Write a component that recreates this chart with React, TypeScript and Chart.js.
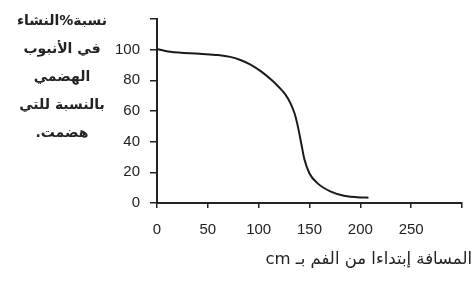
import React, { useEffect, useRef } from "react";
import { Chart, registerables } from "chart.js";

Chart.register(...registerables);

const distanceCm = [0, 13, 42, 60, 72, 82, 92, 103, 113, 120, 126, 131, 135.5, 138.7, 142, 145, 150, 158, 171, 184, 200, 208];
const starchPercent = [100.5, 98.6, 97.3, 96.5, 95.3, 93.3, 90.3, 85.5, 80, 75.5, 71, 65.5, 58, 49.5, 38.5, 28.5, 19.2, 12.8, 7.4, 4.7, 3.6, 3.5];
const yTitleLines = ["نسبة%النشاء", "في الأنبوب", "الهضمي", "بالنسبة للتي", "هضمت."];
const xTitle = "المسافة إبتداءا من الفم بـ cm";

export default function App() {
  const ref = useRef<HTMLCanvasElement | null>(null);

  useEffect(() => {
    if (!ref.current) return;
    const points = distanceCm.map((x, i) => ({ x, y: starchPercent[i] }));
    const font = { family: "'Liberation Sans', Arial, sans-serif", size: 15 };
    const chart = new Chart(ref.current, {
      type: "scatter",
      data: {
        datasets: [
          {
            data: points,
            showLine: true,
            borderColor: "#1a1a1a",
            borderWidth: 2,
            pointRadius: 0,
            cubicInterpolationMode: "monotone",
            fill: false,
          },
        ],
      },
      options: {
        animation: false,
        responsive: false,
        layout: { padding: { left: 0, right: 8, top: 15, bottom: 0 } },
        plugins: { legend: { display: false }, tooltip: { enabled: false } },
        scales: {
          x: {
            type: "linear",
            min: 0,
            max: 300,
            afterFit: (s: any) => { s.height = 83; },
            ticks: {
              stepSize: 50,
              color: "#222",
              font,
              padding: 13,
              maxRotation: 0,
              callback: (v: any) => (v === 300 ? "" : String(v)),
            },
            grid: { drawOnChartArea: false, drawTicks: true, tickLength: 5, color: "#222", lineWidth: 1.5 },
            border: { color: "#222", width: 2 },
          },
          y: {
            min: 0,
            max: 120,
            afterFit: (s: any) => { s.width = 157; },
            ticks: {
              stepSize: 20,
              color: "#222",
              font,
              padding: 10,
              callback: (v: any) => (v === 120 ? "" : String(v)),
            },
            grid: { drawOnChartArea: false, drawTicks: true, tickLength: 7, color: "#222", lineWidth: 1.5 },
            border: { color: "#222", width: 2 },
          },
        },
      },
    });
    return () => chart.destroy();
  }, []);

  const textStyle: React.CSSProperties = {
    position: "absolute",
    fontFamily: "'DejaVu Sans', 'Noto Sans', sans-serif",
    color: "#222",
    direction: "rtl",
    whiteSpace: "nowrap",
  };

  return (
    <div style={{ position: "fixed", left: 0, top: 0, width: 475, height: 286, background: "#fff", overflow: "hidden" }}>
      <canvas ref={ref} width={475} height={286} style={{ position: "absolute", left: 0, top: 0, display: "block" }} />
      <div style={{ ...textStyle, left: 2, top: 6, width: 120, textAlign: "center", fontSize: 14, lineHeight: "28px", fontWeight: "bold" }}>
        {yTitleLines.map((l, i) => (
          <div key={i}>{l}</div>
        ))}
      </div>
      <div style={{ ...textStyle, right: 3, top: 249, fontSize: 16.5, lineHeight: "20px" }}>{xTitle}</div>
    </div>
  );
}
